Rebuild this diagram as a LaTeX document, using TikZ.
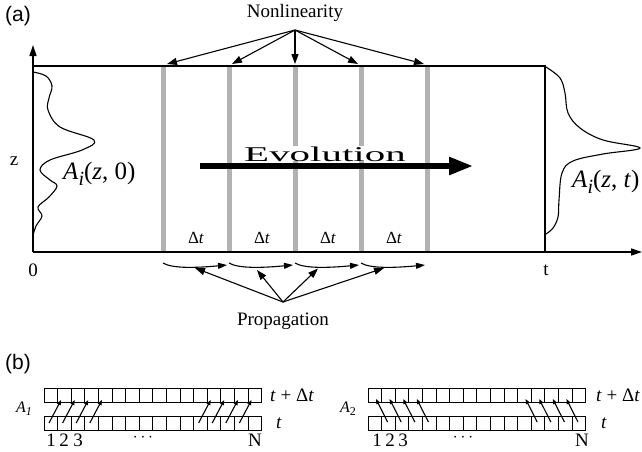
\documentclass[tikz,border=0pt]{standalone}
\usepackage{fontspec}
\setmainfont{Liberation Serif}
\newfontfamily\labelfont{Liberation Sans}
\usetikzlibrary{arrows.meta}
\begin{document}
\begin{tikzpicture}[x=1pt,y=-1pt,
  bigtip/.style={-{Triangle[length=10pt,width=7pt]}},
  conn/.style={line width=1.1pt, bigtip},
  smalltip/.style={line width=1.1pt,-{Triangle[length=5pt,width=4pt]}},
  barline/.style={line width=5pt, draw=black!30},
  frameline/.style={line width=1.4pt},
  curveline/.style={line width=1.1pt},
  cellbox/.style={line width=1pt},
  txt/.style={inner sep=0pt, font=\fontsize{19}{22}\selectfont},
  smalltxt/.style={inner sep=0pt, font=\fontsize{17}{20}\selectfont},
  paneltxt/.style={inner sep=0pt, font=\labelfont\fontsize{21}{24}\selectfont},
  mathtxt/.style={inner sep=0pt, font=\fontsize{25}{28}\selectfont}]
\useasboundingbox (0,0) rectangle (642,451);

% ---------- panel (a) ----------
\node[paneltxt] (pa) at (18,16) {(a)};

% grey bars
\foreach \i/\x in {1/163,2/229,3/295,4/361,5/427} {
  \coordinate (bt\i) at (\x,66);
  \coordinate (bb\i) at (\x,252);
  \draw[barline] (\x,67) -- (\x,251);
}

% frame and axes
\coordinate (o) at (33,252);
\coordinate (ytop) at (33,45);
\coordinate (xend) at (642,252);
\coordinate (tl) at (33,66);
\coordinate (tr) at (545,66);
\coordinate (br) at (545,252);
\draw[frameline] (tl) -- (tr) -- (br);
\draw[frameline,-{Triangle[length=11pt,width=7pt]}] (o) -- (ytop);
\draw[frameline,-{Triangle[length=11pt,width=7pt]}] (o) -- (xend);

% axis labels
\node[txt, anchor=base] (zl) at (14,165) {z};
\node[txt] (zero) at (33,270) {0};
\node[txt] (tlab) at (546,270) {t};

% Evolution
\node[inner sep=0pt, fill=white, anchor=base, font=\fontsize{21}{24}\selectfont] (evo) at (325,161) {\scalebox{1.95}[1]{Evolution}};
\draw[line width=5.5pt,-{Triangle[length=24pt,width=17pt]}] (200,166) -- (473,166);

% delta t labels
\foreach \x in {196,262,328,394} {
  \node[smalltxt] at (\x,238) {Δ\textit{t}};
}

% Nonlinearity
\node[txt, anchor=base] (nl) at (295,17) {Nonlinearity};
\coordinate (nlsrc) at (295,30);
\draw[conn] (nlsrc) -- (167,64);
\draw[conn] (nlsrc) -- (232,64);
\draw[conn] (nlsrc) -- (295,64);
\draw[conn] (nlsrc) -- (358,64);
\draw[conn] (nlsrc) -- (424,64);

% propagation arcs
\foreach \i in {0,1,2,3} {
  \draw[curveline,-{Triangle[length=9pt,width=6pt]}] (163+66*\i,263) .. controls (172+66*\i,268.5) and (195+66*\i,268) .. (227+66*\i,265);
}
\node[txt, anchor=base] (prop) at (283,325) {Propagation};
\coordinate (psrc) at (283,302);
\coordinate (p1) at (195,268);
\coordinate (p2) at (257,270);
\coordinate (p3) at (318,268.5);
\coordinate (p4) at (384,268);
\draw[conn] (psrc) -- (p1);
\draw[conn] (psrc) -- (p2);
\draw[conn] (psrc) -- (p3);
\draw[conn] (psrc) -- (p4);

% input pulse
\draw[curveline] plot[smooth, tension=0.6] coordinates {(33,72) (46,76) (52,86) (49,98) (48,110) (60,127) (94,140) (82,150) (50,160) (40,170) (50,180) (57,186) (49,197) (38,207) (42,216) (36,226) (33,236) (33,243)};
\node[mathtxt, anchor=base west] (ain) at (63,179) {\textit{A}\raisebox{-6pt}{\fontsize{20}{20}\selectfont\textit{i}}(\textit{z}, 0)};

% output pulse
\draw[curveline] plot[smooth, tension=0.6] coordinates {(546,67) (560,78) (565,93) (568,113) (580,128) (603,140) (640,148) (603,154) (573,161) (562,173) (559,200) (558,217) (553,228) (546,234)};
\node[mathtxt, anchor=base west] (aout) at (572,187) {\textit{A}\raisebox{-6pt}{\fontsize{20}{20}\selectfont\textit{i}}(\textit{z}, \textit{t})};

% ---------- panel (b) ----------
\node[paneltxt] (pb) at (18,364) {(b)};

% left array A1
\def\cw{13.6}
\foreach \k in {0,...,15} {
  \draw[cellbox] (44+\k*\cw,388) rectangle ++(\cw,14);
  \draw[cellbox] (44+\k*\cw,416) rectangle ++(\cw,14);
}
\foreach \k in {1,2,3,4,12,13,14,15} {
  \coordinate (ls\k) at (44+\k*\cw-\cw+5,423);
  \coordinate (le\k) at (44+\k*\cw+3.5,400);
  \draw[smalltip] (ls\k) -- (le\k);
}
\node[inner sep=0pt, font=\fontsize{16}{18}\selectfont] (a1) at (24,409) {\textit{A}\raisebox{-3pt}{\fontsize{12}{12}\selectfont\textit{1}}};
\node[txt, anchor=west] (ltd) at (270,395) {\textit{t} + Δ\textit{t}};
\node[txt, anchor=west] (lt) at (276,423) {\textit{t}};
\node[txt] (l1) at (51,440) {1};
\node[txt] (l2) at (64,440) {2};
\node[txt] (l3) at (78,440) {3};
\node[txt] (ldots) at (143,438) {$\cdots$};
\node[txt] (lN) at (255,440) {N};

% right array A2
\foreach \k in {0,...,15} {
  \draw[cellbox] (368+\k*\cw,388) rectangle ++(\cw,14);
  \draw[cellbox] (368+\k*\cw,416) rectangle ++(\cw,14);
}
\foreach \k in {1,2,3,4,12,13,14,15} {
  \coordinate (rs\k) at (368+\k*\cw+6,422);
  \coordinate (re\k) at (368+\k*\cw-\cw+8,399);
  \draw[smalltip] (rs\k) -- (re\k);
}
\node[inner sep=0pt, font=\fontsize{16}{18}\selectfont] (a2) at (348,409) {\textit{A}\raisebox{-3pt}{\fontsize{12}{12}\selectfont 2}};
\node[txt, anchor=west] (rtd) at (596,395) {\textit{t} + Δ\textit{t}};
\node[txt, anchor=west] (rt) at (601,423) {\textit{t}};
\node[txt] (r1) at (377,440) {1};
\node[txt] (r2) at (390,440) {2};
\node[txt] (r3) at (403,440) {3};
\node[txt] (rdots) at (463,438) {$\cdots$};
\node[txt] (rN) at (582,440) {N};
\end{tikzpicture}
\end{document}
